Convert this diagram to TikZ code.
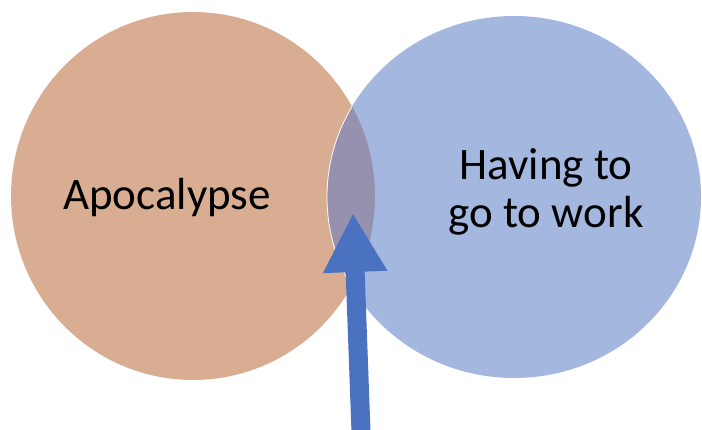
\documentclass[tikz,border=0pt]{standalone}
\usepackage{fontspec}
\setmainfont{Carlito}
\usetikzlibrary{arrows.meta}
\definecolor{apotan}{HTML}{D9AD91}
\definecolor{workblue}{HTML}{A4B7DE}
\definecolor{bothmix}{HTML}{9691AF}
\definecolor{arrowblue}{HTML}{4A72C0}

\begin{document}
\begin{tikzpicture}[x=1pt,y=1pt,
  vennlabel/.style={align=center,font=\fontsize{45}{48}\selectfont,text=black,anchor=base}]
\useasboundingbox (0,0) rectangle (702,430);

%% Circles
\fill[apotan] (193,234) ellipse (182 and 184);
\fill[workblue] (514,233) ellipse (187 and 181);
%% Overlap
\begin{scope}
\clip (193,234) ellipse (182 and 184);
\fill[bothmix] (514,233) ellipse (187 and 181);
\draw[white,line width=0.8pt] (514,233) ellipse (187 and 181);
\end{scope}

%% Labels
\node[vennlabel] (apoc) at (167,220) {Apocalypse};
\node[vennlabel] (work) at (546,202) {Having to\\go to work};

%% Arrow
\coordinate (arrowtail) at (361,-2);
\coordinate (arrowtip) at (353,217);
\draw[arrowblue,line width=19pt,-{Triangle[width=60pt,length=59pt]}] (arrowtail) -- (arrowtip);

\end{tikzpicture}
\end{document}
